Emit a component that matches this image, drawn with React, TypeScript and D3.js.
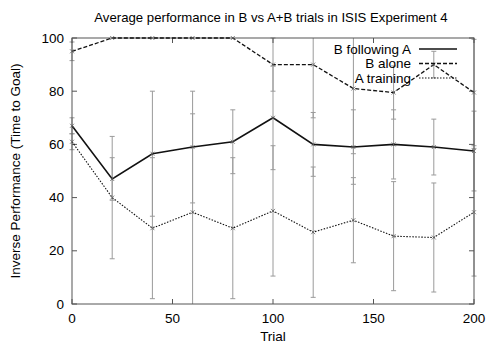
import React from 'react';
import * as d3 from 'd3';

const trials = [0, 20, 40, 60, 80, 100, 120, 140, 160, 180, 200];

const bFollowing = [67, 47, 56.5, 59, 61, 70, 60, 59, 60, 59, 57.5];
const bFollowingErr = [3, 8, 23.5, 21, 12, 19.5, 12, 14, 13, 10.5, 15];

const bAlone = [95, 100, 100, 100, 100, 90, 90, 81, 79.5, 90, 79.5];
const bAloneErr = [3.5, 0, 0, 0, 0, 10, 20, 24.5, 10, 5, 20];

const aTraining = [61, 40, 28.5, 34.5, 28.5, 35, 27, 31.5, 25.5, 25, 34.5];
const aTrainingErr = [3, 23, 26.5, 37, 26.5, 24.5, 24.5, 16, 20.5, 20.5, 24];

const xTicks = [0, 50, 100, 150, 200];
const yTicks = [0, 20, 40, 60, 80, 100];

const seriesNames = ['B following A', 'B alone', 'A training'];

const App = () => {
  const ref = React.useRef<SVGSVGElement>(null);

  React.useEffect(() => {
    const svg = d3.select(ref.current);
    svg.selectAll('*').remove();

    const width = 488;
    const height = 343;
    const margin = { top: 38, right: 14, bottom: 39, left: 72 };
    const font = 'Liberation Sans, Arial, sans-serif';

    const x = d3.scaleLinear().domain([0, 200]).range([margin.left, width - margin.right]);
    const y = d3.scaleLinear().domain([0, 100]).range([height - margin.bottom, margin.top]);
    const clampY = (v: number) => y(Math.max(0, Math.min(100, v)));

    const series = [
      { name: seriesNames[0], values: bFollowing, err: bFollowingErr, dash: null, w: 1.6 },
      { name: seriesNames[1], values: bAlone, err: bAloneErr, dash: '4,2', w: 1.3 },
      { name: seriesNames[2], values: aTraining, err: aTrainingErr, dash: '1.5,1.5', w: 1.1 },
    ];

    // error bars
    const eb = svg.append('g').attr('stroke', '#9a9a9a').attr('stroke-width', 1);
    series.forEach(s => {
      s.values.forEach((v, i) => {
        if (!s.err[i]) return;
        const cx = x(trials[i]);
        const lo = v - s.err[i];
        const hi = v + s.err[i];
        eb.append('line').attr('x1', cx).attr('x2', cx).attr('y1', clampY(lo)).attr('y2', clampY(hi));
        if (lo >= 0) eb.append('line').attr('x1', cx - 2.5).attr('x2', cx + 2.5).attr('y1', y(lo)).attr('y2', y(lo));
        if (hi <= 100) eb.append('line').attr('x1', cx - 2.5).attr('x2', cx + 2.5).attr('y1', y(hi)).attr('y2', y(hi));
      });
    });

    // frame
    const axisColor = '#555';
    svg.append('rect')
      .attr('x', margin.left).attr('y', margin.top)
      .attr('width', width - margin.left - margin.right)
      .attr('height', height - margin.top - margin.bottom)
      .attr('fill', 'none').attr('stroke', axisColor).attr('stroke-width', 1);

    const ticks = svg.append('g').attr('stroke', axisColor).attr('stroke-width', 1);
    xTicks.forEach(t => {
      ticks.append('line').attr('x1', x(t)).attr('x2', x(t)).attr('y1', y(0)).attr('y2', y(0) - 5);
      ticks.append('line').attr('x1', x(t)).attr('x2', x(t)).attr('y1', y(100)).attr('y2', y(100) + 5);
    });
    yTicks.forEach(t => {
      ticks.append('line').attr('x1', x(0)).attr('x2', x(0) + 5).attr('y1', y(t)).attr('y2', y(t));
      ticks.append('line').attr('x1', x(200)).attr('x2', x(200) - 5).attr('y1', y(t)).attr('y2', y(t));
    });

    svg.append('g').selectAll('text').data(xTicks).enter().append('text')
      .attr('x', d => x(d)).attr('y', y(0) + 19)
      .attr('text-anchor', 'middle').attr('font-family', font).attr('font-size', 13.5)
      .text(d => d);

    svg.append('g').selectAll('text').data(yTicks).enter().append('text')
      .attr('x', x(0) - 8).attr('y', d => y(d) + 4.5)
      .attr('text-anchor', 'end').attr('font-family', font).attr('font-size', 13.5)
      .text(d => d);

    // lines
    const line = d3.line<number>().x((d, i) => x(trials[i])).y(d => y(d));
    series.forEach(s => {
      const p = svg.append('path').attr('d', line(s.values))
        .attr('fill', 'none').attr('stroke', '#111').attr('stroke-width', s.w);
      if (s.dash) p.attr('stroke-dasharray', s.dash);
      svg.append('g').selectAll('path').data(s.values).enter().append('path')
        .attr('d', (d, i) => {
          const cx = x(trials[i]);
          const cy = y(d);
          return `M${cx - 2},${cy - 2}L${cx + 2},${cy + 2}M${cx - 2},${cy + 2}L${cx + 2},${cy - 2}`;
        })
        .attr('stroke', '#666').attr('stroke-width', 0.8);
    });

    // legend
    const lg = svg.append('g');
    series.forEach((s, i) => {
      const ly = 49 + i * 14.5;
      lg.append('text').attr('x', 411).attr('y', ly + 4.5)
        .attr('text-anchor', 'end').attr('font-family', font).attr('font-size', 13.5)
        .text(s.name);
      const l = lg.append('line').attr('x1', 419).attr('x2', 457).attr('y1', ly).attr('y2', ly)
        .attr('stroke', '#111').attr('stroke-width', s.w);
      if (s.dash) l.attr('stroke-dasharray', s.dash);
    });

    // titles
    svg.append('text').attr('x', 271).attr('y', 22)
      .attr('text-anchor', 'middle').attr('font-family', font).attr('font-size', 13.2)
      .text('Average performance in B vs A+B trials in ISIS Experiment 4');
    svg.append('text').attr('x', x(100)).attr('y', 341)
      .attr('text-anchor', 'middle').attr('font-family', font).attr('font-size', 13.5)
      .text('Trial');
    svg.append('text').attr('transform', `translate(19.5,${(y(0) + y(100)) / 2}) rotate(-90)`)
      .attr('text-anchor', 'middle').attr('font-family', font).attr('font-size', 13.5)
      .text('Inverse Performance (Time to Goal)');
  }, []);

  return (
    <svg ref={ref} width="488" height="343"
      style={{ position: 'absolute', left: 0, top: 0, background: '#fff' }} />
  );
};

export default App;
